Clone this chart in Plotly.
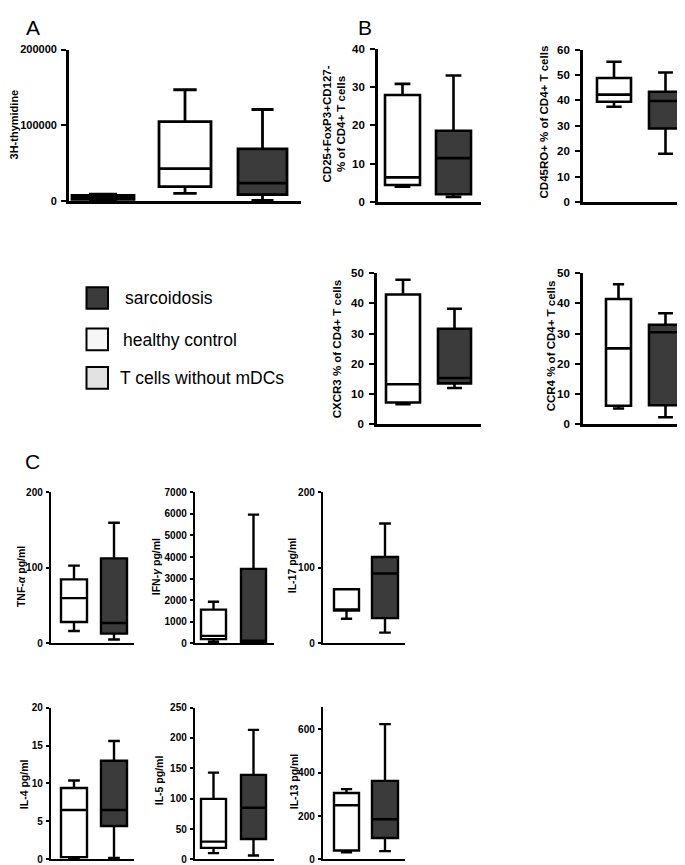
import plotly.graph_objects as go

W, H = 685, 865

# ---------------- data ----------------
groups_a = ["T cells without mDCs", "healthy control", "sarcoidosis"]
groups = ["healthy control", "sarcoidosis"]

thym_low = [1500, 10400, 1300]
thym_q1 = [2500, 19500, 9000]
thym_med = [5500, 43000, 24000]
thym_q3 = [8000, 105000, 69000]
thym_up = [9500, 147000, 121000]

treg_low = [4.1, 1.4]
treg_q1 = [4.5, 2.1]
treg_med = [6.5, 11.5]
treg_q3 = [27.9, 18.6]
treg_up = [30.8, 33.0]

cd45_low = [37.5, 19.1]
cd45_q1 = [39.5, 29.0]
cd45_med = [42.3, 39.8]
cd45_q3 = [48.8, 43.4]
cd45_up = [55.2, 51.0]

cxcr3_low = [6.6, 12.0]
cxcr3_q1 = [7.2, 13.5]
cxcr3_med = [13.2, 15.3]
cxcr3_q3 = [42.9, 31.6]
cxcr3_up = [47.8, 38.2]

ccr4_low = [5.2, 2.3]
ccr4_q1 = [6.1, 6.3]
ccr4_med = [25.1, 30.4]
ccr4_q3 = [41.4, 32.9]
ccr4_up = [46.3, 36.7]

tnf_low = [16.5, 5.2]
tnf_q1 = [28.3, 13.0]
tnf_med = [60.0, 27.0]
tnf_q3 = [84.8, 112.6]
tnf_up = [103.0, 159.6]

ifn_low = [76, 46]
ifn_q1 = [198, 76]
ifn_med = [350, 122]
ifn_q3 = [1567, 3454]
ifn_up = [1933, 5965]

il17_low = [32.6, 14.3]
il17_q1 = [43.5, 33.5]
il17_med = [43.5, 92.6]
il17_q3 = [71.7, 114.3]
il17_up = [71.7, 158.7]

il4_low = [0.2, 0.2]
il4_q1 = [0.3, 4.4]
il4_med = [6.5, 6.5]
il4_q3 = [9.4, 13.0]
il4_up = [10.4, 15.6]

il5_low = [10.3, 6.5]
il5_q1 = [18.9, 33.5]
il5_med = [29.2, 85.0]
il5_q3 = [99.6, 139.1]
il5_up = [142.9, 213.2]

il13_low = [33, 38]
il13_q1 = [41, 98.5]
il13_med = [250, 185]
il13_q3 = [306, 362]
il13_up = [324, 624]

# y-axis tick labels per panel
ticks_thym = [0, 100000, 200000]
ticks_treg = [0, 10, 20, 30, 40]
ticks_cd45 = [0, 10, 20, 30, 40, 50, 60]
ticks_50 = [0, 10, 20, 30, 40, 50]
ticks_tnf = [0, 100, 200]
ticks_ifn = [0, 1000, 2000, 3000, 4000, 5000, 6000, 7000]
ticks_il4 = [0, 5, 10, 15, 20]
ticks_il5 = [0, 50, 100, 150, 200, 250]
ticks_il13 = [0, 200, 400, 600]

legend_labels = ["sarcoidosis", "healthy control", "T cells without mDCs"]

# ---------------- styles ----------------
DARK = "#3b3b3b"
WHITE = "#ffffff"
LIGHT = "#e2e2e2"
fill_a = [LIGHT, WHITE, DARK]
fill_2 = [WHITE, DARK]
legend_fills = [DARK, "#f6f6f6", LIGHT]

SANS = "Liberation Sans, Arial, Helvetica, sans-serif"
TX_SHIFT = -8  # calibration of rotated annotation placement

AB = dict(tl=5, so=3)
CC = dict(tl=3, so=1)

# panel geometry in pixels: axis left/right, top/bottom, box centres, box widths
panels = [
    dict(g=groups_a, fills=fill_a, low=thym_low, q1=thym_q1, med=thym_med, q3=thym_q3, up=thym_up,
         L=61, R=293, T=36, B=190, C=[95, 177, 254.5], Wd=[62, 52, 49], ymax=200000, tv=ticks_thym,
         title="3H-thymidine", tx=14, ty=112, tsize=11, fsize=11, lw=2.8, tl=5, so=2),
    dict(g=groups, fills=fill_2, low=treg_low, q1=treg_q1, med=treg_med, q3=treg_q3, up=treg_up,
         L=370, R=473, T=35, B=191, C=[394.5, 445.5], Wd=[35, 35], ymax=40, tv=ticks_treg,
         title="CD25+FoxP3+CD127-<br>% of CD4+ T cells", tx=334, ty=112, tsize=11.5, fsize=11.5, lw=2.6, **AB),
    dict(g=groups, fills=fill_2, low=cd45_low, q1=cd45_q1, med=cd45_med, q3=cd45_q3, up=cd45_up,
         L=575, R=683, T=36, B=191, C=[606, 657.5], Wd=[34, 33], ymax=60, tv=ticks_cd45,
         title="CD45RO+ % of CD4+ T cells", tx=544, ty=110, tsize=11.5, fsize=11.5, lw=2.6, **AB),
    dict(g=groups, fills=fill_2, low=cxcr3_low, q1=cxcr3_q1, med=cxcr3_med, q3=cxcr3_q3, up=cxcr3_up,
         L=369, R=473, T=262.7, B=416, C=[395, 446.5], Wd=[34, 33], ymax=50, tv=ticks_50,
         title="CXCR3 % of CD4+ T cells", tx=337, ty=340, tsize=11.5, fsize=11.5, lw=2.6, **AB),
    dict(g=groups, fills=fill_2, low=ccr4_low, q1=ccr4_q1, med=ccr4_med, q3=ccr4_q3, up=ccr4_up,
         L=575, R=683, T=262.7, B=416, C=[610.5, 657.5], Wd=[25, 33], ymax=50, tv=ticks_50,
         title="CCR4 % of CD4+ T cells", tx=551, ty=337, tsize=11.5, fsize=11.5, lw=2.6, **AB),
    dict(g=groups, fills=fill_2, low=tnf_low, q1=tnf_q1, med=tnf_med, q3=tnf_q3, up=tnf_up,
         L=43, R=126, T=485, B=638.3, C=[66, 106], Wd=[26, 26], ymax=200, tv=ticks_tnf,
         title="TNF-<i>α</i> pg/ml", tx=21, ty=571, tsize=10.5, fsize=10, lw=2.4, **CC),
    dict(g=groups, fills=fill_2, low=ifn_low, q1=ifn_q1, med=ifn_med, q3=ifn_q3, up=ifn_up,
         L=187, R=266, T=485, B=638.3, C=[205.5, 245.5], Wd=[25, 25], ymax=7000, tv=ticks_ifn,
         title="IFN-<i>γ</i> pg/ml", tx=156, ty=561, tsize=10.5, fsize=10, lw=2.4, **CC),
    dict(g=groups, fills=fill_2, low=il17_low, q1=il17_q1, med=il17_med, q3=il17_q3, up=il17_up,
         L=315, R=397, T=485, B=638.3, C=[338.5, 377], Wd=[25, 26], ymax=200, tv=ticks_tnf,
         title="IL-17 pg/ml", tx=292, ty=559, tsize=10.5, fsize=10, lw=2.4, **CC),
    dict(g=groups, fills=fill_2, low=il4_low, q1=il4_q1, med=il4_med, q3=il4_q3, up=il4_up,
         L=43, R=126, T=703.3, B=857.3, C=[66, 106], Wd=[26, 26], ymax=20, tv=ticks_il4,
         title="IL-4 pg/ml", tx=24, ty=781, tsize=10.5, fsize=10, lw=2.4, **CC),
    dict(g=groups, fills=fill_2, low=il5_low, q1=il5_q1, med=il5_med, q3=il5_q3, up=il5_up,
         L=187, R=266, T=703.3, B=857.3, C=[205.5, 245.5], Wd=[25, 25], ymax=250, tv=ticks_il5,
         title="IL-5 pg/ml", tx=159, ty=777, tsize=10.5, fsize=10, lw=2.4, **CC),
    dict(g=groups, fills=fill_2, low=il13_low, q1=il13_q1, med=il13_med, q3=il13_q3, up=il13_up,
         L=315, R=397, T=702.7, B=857.3, C=[338.5, 377], Wd=[25, 26], ymax=703, tv=ticks_il13,
         title="IL-13 pg/ml", tx=294, ty=778, tsize=10.5, fsize=10, lw=2.4, **CC),
]


def px_x(p):
    return p / W


def px_y(p):
    return 1 - p / H


fig = go.Figure()
annotations = []
shapes = []
layout_axes = {}

for i, P in enumerate(panels):
    k = "" if i == 0 else str(i + 1)
    xa, ya = "x" + k, "y" + k
    unit = P["C"][1] - P["C"][0]
    c0 = P["C"][0]
    xr = [1 - (c0 - P["L"]) / unit, 1 + (P["R"] - c0) / unit]
    for j, name in enumerate(P["g"]):
        pos = 1 + (P["C"][j] - c0) / unit
        fig.add_trace(go.Box(
            x=[pos], q1=[P["q1"][j]], median=[P["med"][j]], q3=[P["q3"][j]],
            lowerfence=[P["low"][j]], upperfence=[P["up"][j]],
            orientation="v", width=P["Wd"][j] / unit, whiskerwidth=0.45,
            fillcolor=P["fills"][j], line=dict(color="black", width=P["lw"]),
            boxpoints=False, name=name, showlegend=False, hoverinfo="skip",
            xaxis=xa, yaxis=ya,
        ))
    layout_axes["xaxis" + k] = dict(
        domain=[px_x(P["L"]), px_x(P["R"])], range=xr, anchor=ya,
        showline=True, linecolor="black", linewidth=P["lw"], showgrid=False,
        zeroline=False, showticklabels=False, ticks="", fixedrange=True,
    )
    layout_axes["yaxis" + k] = dict(
        domain=[px_y(P["B"]), px_y(P["T"])], range=[0, P["ymax"]], anchor=xa,
        showline=True, linecolor="black", linewidth=P["lw"], showgrid=False,
        zeroline=False, ticks="outside", ticklen=P["tl"], tickwidth=2, tickcolor="black",
        tickmode="array", tickvals=P["tv"], ticktext=["<b>%d</b>" % v for v in P["tv"]],
        ticklabelstandoff=P["so"],
        tickfont=dict(family=SANS, size=P["fsize"], color="black"),
        fixedrange=True,
    )
    annotations.append(dict(
        text="<b>" + P["title"] + "</b>", x=px_x(P["tx"] + TX_SHIFT), y=px_y(P["ty"]),
        xref="paper", yref="paper",
        textangle=-90, showarrow=False, xanchor="center", yanchor="middle",
        font=dict(family=SANS, size=P["tsize"], color="black"),
    ))

# panel letters
for letter, lx, ly in [("A", 25, 14), ("B", 357, 14), ("C", 25, 454)]:
    annotations.append(dict(
        text=letter, x=px_x(lx), y=px_y(ly), xref="paper", yref="paper", showarrow=False,
        xanchor="center", yanchor="middle", font=dict(family=SANS, size=21, color="black"),
    ))

# legend
leg_sq_top = [277, 319, 358]
leg_text_x = [115, 113, 110]
for lab, fc, t, tx in zip(legend_labels, legend_fills, leg_sq_top, leg_text_x):
    shapes.append(dict(type="rect", xref="paper", yref="paper",
                       x0=px_x(78.5), x1=px_x(100), y0=px_y(t + 22), y1=px_y(t),
                       fillcolor=fc, line=dict(color="black", width=2)))
    annotations.append(dict(
        text=lab, x=px_x(tx), y=px_y(t + 11.5), xref="paper", yref="paper", showarrow=False,
        xanchor="left", yanchor="middle", font=dict(family=SANS, size=17.5, color="black"),
    ))

fig.update_layout(
    width=W, height=H, margin=dict(l=0, r=0, t=0, b=0),
    paper_bgcolor="white", plot_bgcolor="white",
    showlegend=False, boxmode="overlay",
    annotations=annotations, shapes=shapes,
    **layout_axes,
)

fig.write_html("out.html")
